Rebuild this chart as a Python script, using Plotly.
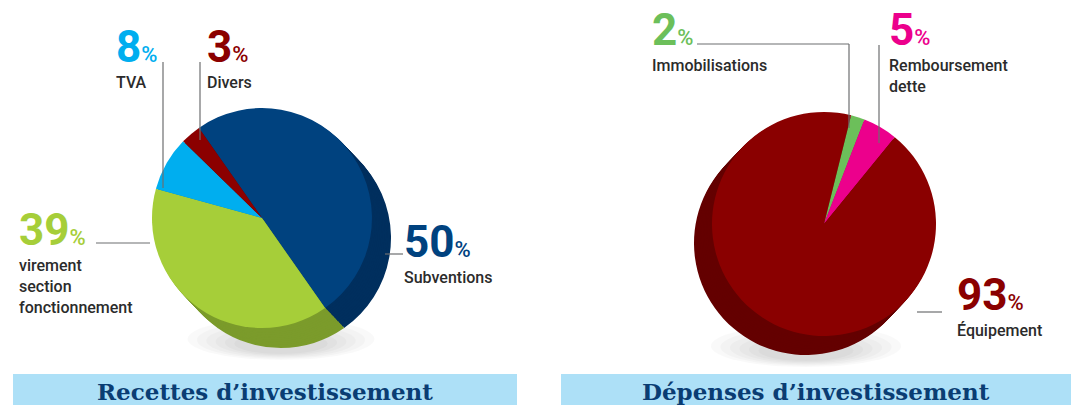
import plotly.graph_objects as go

W, H = 1071, 405

# ---- data ----
rec_labels = ["Subventions", "virement section fonctionnement", "TVA", "Divers"]
rec_values = [50, 39, 8, 3]
rec_colors = ["#00427f", "#a6ce39", "#00aeef", "#8b0000"]
rec_side = ["#002f5e", "#7b9b2b", "#0083b5", "#5a0000"]

dep_labels = ["Immobilisations", "Remboursement dette", "Équipement"]
dep_values = [2, 5, 93]
dep_colors = ["#6cbf5a", "#ec008c", "#8a0000"]
dep_side = ["#4a8f3c", "#ad0068", "#640000"]

rec_title = "Recettes d’investissement"
dep_title = "Dépenses d’investissement"

NUM_FONT = "Roboto, Liberation Sans, sans-serif"
LAB_FONT = "Roboto, Liberation Sans, sans-serif"


def px(x):
    return x / W


def py(y):
    return 1 - y / H


def domain(cx, cy, r):
    return dict(x=[px(cx - r), px(cx + r)], y=[py(cy + r), py(cy - r)])


fig = go.Figure()
shapes = []
annotations = []


def add_pie(labels, values, colors, sides, cx, cy, r, dx, dy, rotation):
    # soft drop shadow below the pie
    for k in [1.0, 0.9, 0.8, 0.7, 0.6, 0.5]:
        shapes.append(dict(type="circle", xref="paper", yref="paper", layer="below",
                           x0=px(cx + dx - r * 0.85 * k), x1=px(cx + dx + r * 0.85 * k),
                           y0=py(cy + dy + r + 12 * k), y1=py(cy + dy + r - 30 * k),
                           fillcolor="rgba(0,0,0,0.022)", line=dict(width=0)))
    n = 12
    for i in range(n, 0, -1):
        f = i / n
        fig.add_trace(go.Pie(
            labels=labels, values=values, sort=False, direction="clockwise",
            rotation=rotation, textinfo="none", hoverinfo="skip", showlegend=False,
            marker=dict(colors=sides, line=dict(width=0)),
            domain=domain(cx + dx * f, cy + dy * f, r),
        ))
    fig.add_trace(go.Pie(
        labels=labels, values=values, sort=False, direction="clockwise",
        rotation=rotation, textinfo="none", showlegend=False,
        marker=dict(colors=colors, line=dict(width=0)),
        domain=domain(cx, cy, r),
    ))


add_pie(rec_labels, rec_values, rec_colors, rec_side, 262, 218, 110, 19, 20, -35)
add_pie(dep_labels, dep_values, dep_colors, dep_side, 824, 224, 112, -18, 19, 14)


def line(x0, y0, x1, y1):
    shapes.append(dict(type="line", xref="paper", yref="paper",
                       x0=px(x0), y0=py(y0), x1=px(x1), y1=py(y1),
                       line=dict(color="#6d6e70", width=1.2)))


def label(x, ybase, value, color, text):
    # ybase: baseline of the big number (pixels from top)
    annotations.append(dict(
        xref="paper", yref="paper", x=px(x - 3), y=py(ybase + 10), xanchor="left", yanchor="bottom",
        showarrow=False, align="left",
        text=f"<b>{value}</b><span style='font-size:22px;font-weight:500'>%</span>",
        font=dict(family=NUM_FONT, size=44, color=color)))
    annotations.append(dict(
        xref="paper", yref="paper", x=px(x - 3), y=py(ybase + 6), xanchor="left", yanchor="top",
        showarrow=False, align="left",
        text="<br>".join(text.split("|")),
        font=dict(family=LAB_FONT, size=16, color="#2b2b2b", weight=500)))


# left pie labels
label(117, 65, rec_values[2], rec_colors[2], "TVA")
label(208, 65, rec_values[3], rec_colors[3], "Divers")
label(20, 248, rec_values[1], rec_colors[1], "virement|section|fonctionnement")
label(405, 260, rec_values[0], rec_colors[0], "Subventions")
line(163, 62, 163, 188)
line(200, 62, 200, 140)
line(96, 243, 150, 243)
line(385, 254, 403, 254)

# right pie labels
label(653, 48, dep_values[0], dep_colors[0], "Immobilisations")
label(890, 48, dep_values[1], dep_colors[1], "Remboursement|dette")
label(958, 313, dep_values[2], dep_colors[2], "Équipement")
line(697, 44, 849, 44)
line(849, 44, 849, 128)
line(879, 45, 879, 143)
line(917, 312, 942, 312)

# title bars
for x0, x1, t in [(13, 517, rec_title), (561, 1071, dep_title)]:
    shapes.append(dict(type="rect", xref="paper", yref="paper", layer="below",
                       x0=px(x0), x1=px(x1), y0=py(410), y1=py(374),
                       fillcolor="#ade0f7", line=dict(width=0)))
    annotations.append(dict(
        xref="paper", yref="paper", x=px((x0 + x1) / 2), y=py(391),
        xanchor="center", yanchor="middle", showarrow=False,
        text=f"<b>{t}</b>",
        font=dict(family="DejaVu Serif, serif", size=23, color="#0a3d73")))

fig.update_layout(
    width=W, height=H, margin=dict(l=0, r=0, t=0, b=0),
    paper_bgcolor="white", plot_bgcolor="white",
    shapes=shapes, annotations=annotations,
)

fig.write_html("out.html", config={"displayModeBar": False},
               post_script="document.body.style.margin='0';document.body.style.overflow='hidden';")
